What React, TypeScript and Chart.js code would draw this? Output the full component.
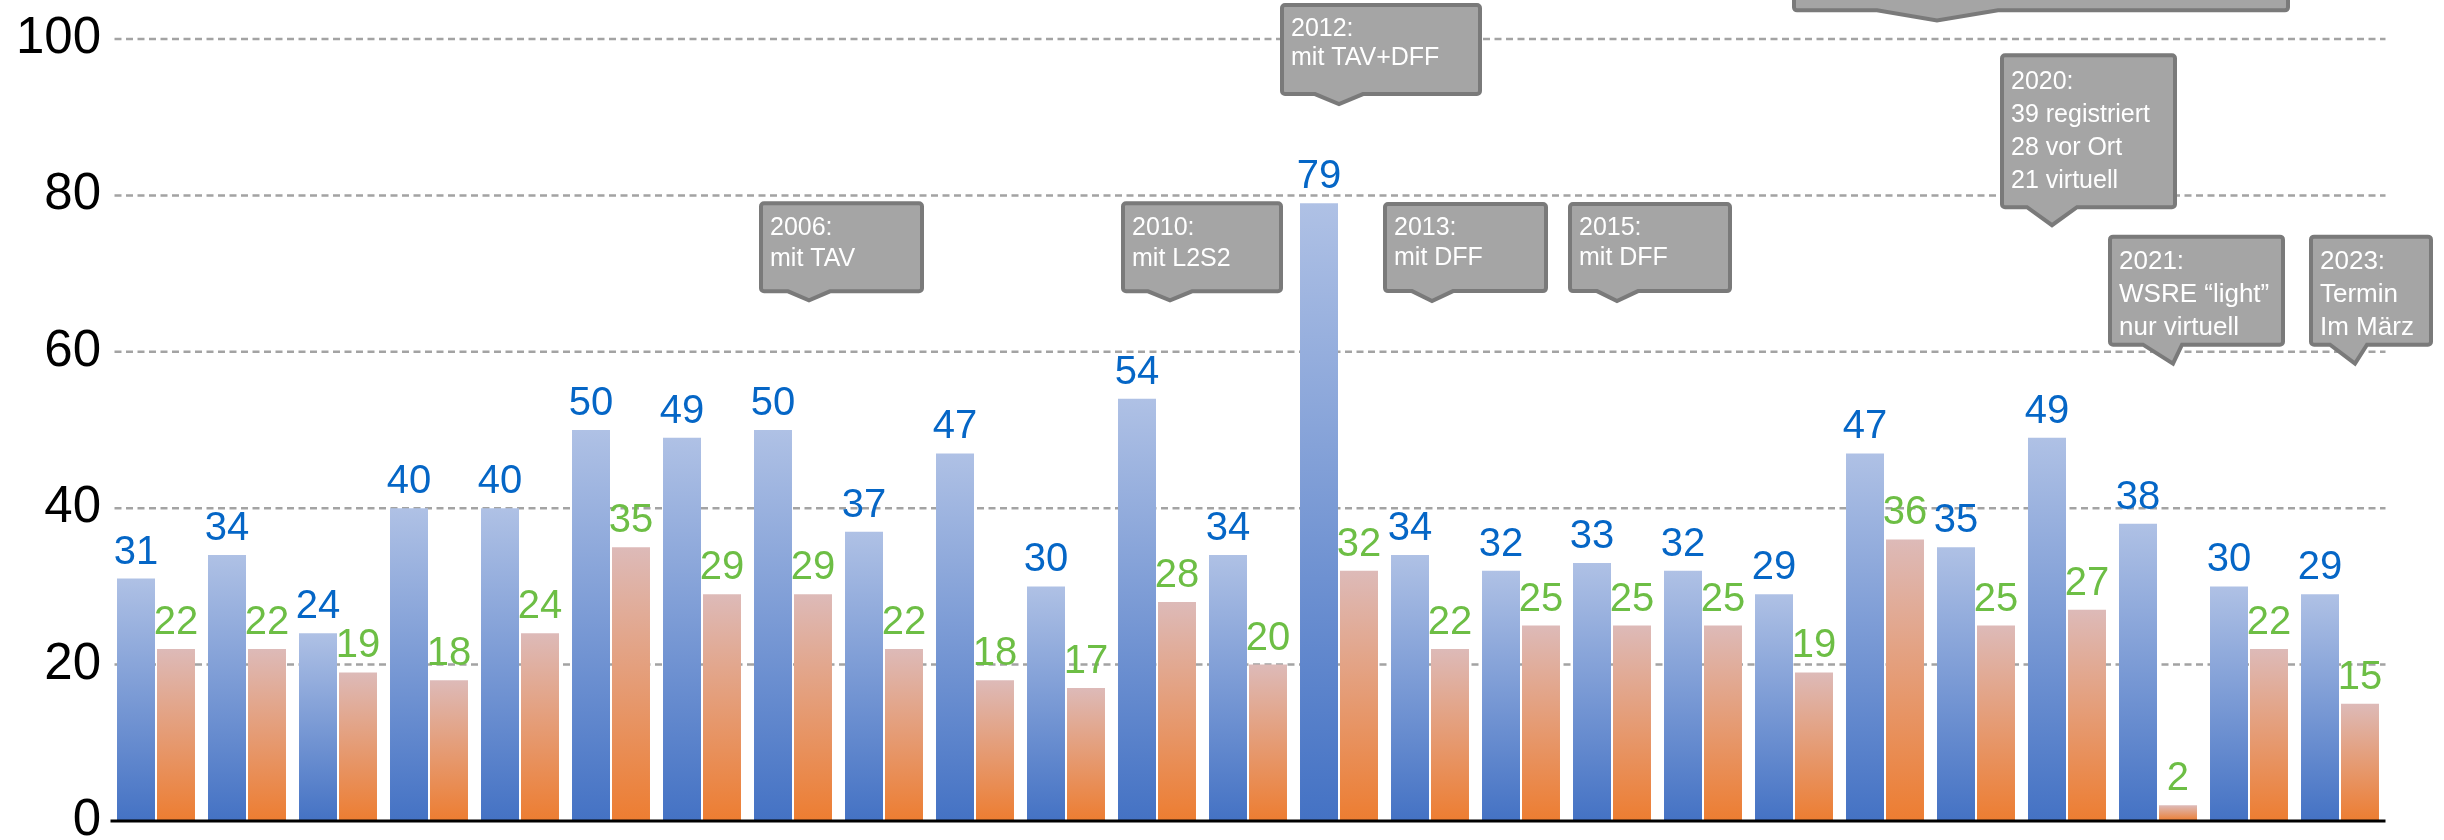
import React, { useEffect, useRef } from 'react';
import { Chart, registerables } from 'chart.js';

Chart.register(...registerables);

// ---- data ----
const years = [
  '1999', '2000', '2001', '2002', '2003', '2004', '2005', '2006', '2007', '2008',
  '2009', '2010', '2011', '2012', '2013', '2014', '2015', '2016', '2017', '2018',
  '2019', '2020', '2021', '2022', '2023',
];
const teilnehmer = [31, 34, 24, 40, 40, 50, 49, 50, 37, 47, 30, 54, 34, 79, 34, 32, 33, 32, 29, 47, 35, 49, 38, 30, 29];
const beitraege = [22, 22, 19, 18, 24, 35, 29, 29, 22, 18, 17, 28, 20, 32, 22, 25, 25, 25, 19, 36, 25, 27, 2, 22, 15];
const yMin = 0;
const yMax = 100;
const yStep = 20;

// ---- callout annotations (anchored on a year and a value) ----
const callouts = [
  { year: '2006', lines: ['2006:', 'mit TAV'], tipValue: 66.2, dx: 16, box: [-50, 115], h: 92, ph: 10, base: [-21, 21], first: 34, lh: 31, size: 25 },
  { year: '2010', lines: ['2010:', 'mit L2S2'], tipValue: 66.2, dx: 13, box: [-49, 113], h: 92, ph: 10, base: [-22, 22], first: 34, lh: 31, size: 25 },
  { year: '2012', lines: ['2012:', 'mit TAV+DFF'], tipValue: 91.3, dx: 0, box: [-59, 143], h: 93, ph: 11, base: [-24, 24], first: 33, lh: 29, size: 25 },
  { year: '2013', lines: ['2013:', 'mit DFF'], tipValue: 66.1, dx: 2, box: [-49, 116], h: 91, ph: 11, base: [-20, 21], first: 33, lh: 30, size: 25 },
  { year: '2015', lines: ['2015:', 'mit DFF'], tipValue: 66.1, dx: 5, box: [-49, 115], h: 91, ph: 11, base: [-20, 21], first: 33, lh: 30, size: 25 },
  { year: '2019', lines: [], tipValue: 102.0, dx: -39, box: [-145, 353], h: 160, ph: 11, base: [-60, 61], first: 34, lh: 31, size: 25 },
  { year: '2020', lines: ['2020:', '39 registriert', '28 vor Ort', '21 virtuell'], tipValue: 75.8, dx: -15, box: [-52, 125], h: 156, ph: 19, base: [-25, 25], first: 36, lh: 33, size: 25 },
  { year: '2021', lines: ['2021:', 'WSRE \u201Clight\u201D', 'nur virtuell'], tipValue: 58.1, dx: 15, box: [-65, 112], h: 112, ph: 20, base: [-30, 9], first: 34, lh: 33, size: 26 },
  { year: '2023', lines: ['2023:', 'Termin', 'Im M\u00E4rz'], tipValue: 58.1, dx: 15, box: [-46, 78], h: 112, ph: 20, base: [-25, 12], first: 34, lh: 33, size: 26 },
];

const FONT = '"Liberation Sans", Arial, Helvetica, sans-serif';
const BLUE_TOP = '#AFC1E5';
const BLUE_BOTTOM = '#4472C4';
const ORANGE_TOP = '#DDBAB8';
const ORANGE_BOTTOM = '#ED7D31';
const BLUE_LABEL = '#0566C6';
const GREEN_LABEL = '#6DBE45';

function barGradient(c: any, top: string, bottom: string) {
  const chart = c.chart;
  const ys = chart.scales && chart.scales.y;
  if (!ys || c.type !== 'data' || c.raw == null) return bottom;
  const y0 = ys.getPixelForValue(c.raw);
  const y1 = ys.getPixelForValue(0);
  if (!isFinite(y0) || !isFinite(y1) || y0 === y1) return bottom;
  const g = chart.ctx.createLinearGradient(0, y0, 0, y1);
  g.addColorStop(0, top);
  g.addColorStop(1, bottom);
  return g;
}

const gridPlugin = {
  id: 'dashGrid',
  beforeDatasetsDraw(chart: any) {
    const ctx = chart.ctx;
    const ys = chart.scales.y;
    const { left, right } = chart.chartArea;
    ctx.save();
    ctx.strokeStyle = '#A3A3A3';
    ctx.lineWidth = 2.5;
    ctx.setLineDash([7, 4.5]);
    ys.ticks.forEach((t: any) => {
      if (t.value === 0) return;
      const py = ys.getPixelForValue(t.value);
      ctx.beginPath();
      ctx.moveTo(left + 4, py);
      ctx.lineTo(right, py);
      ctx.stroke();
    });
    ctx.restore();
  },
};

const labelPlugin = {
  id: 'valueLabels',
  afterDatasetsDraw(chart: any) {
    const ctx = chart.ctx;
    const ys = chart.scales.y;
    const { left, right } = chart.chartArea;
    // zero axis line
    ctx.save();
    ctx.strokeStyle = '#000000';
    ctx.lineWidth = 3;
    const y0 = ys.getPixelForValue(0);
    ctx.beginPath();
    ctx.moveTo(left, y0);
    ctx.lineTo(right, y0);
    ctx.stroke();
    ctx.restore();

    ctx.save();
    ctx.font = `40px ${FONT}`;
    ctx.textAlign = 'center';
    ctx.textBaseline = 'alphabetic';
    chart.data.datasets.forEach((ds: any, di: number) => {
      const meta = chart.getDatasetMeta(di);
      ctx.fillStyle = ds.labelColor;
      meta.data.forEach((el: any, i: number) => {
        ctx.fillText(String(ds.data[i]), el.x, el.y - 15);
      });
    });
    ctx.restore();
  },
};

const calloutPlugin = {
  id: 'callouts',
  afterDraw(chart: any) {
    const ctx = chart.ctx;
    const xs = chart.scales.x;
    const ys = chart.scales.y;
    callouts.forEach((c) => {
      const idx = years.indexOf(c.year);
      const tx = xs.getPixelForValue(idx) + c.dx;
      const ty = ys.getPixelForValue(c.tipValue);
      const bOuter = ty - c.ph;
      const tOuter = bOuter - c.h;
      const L = tx + c.box[0] + 2;
      const R = tx + c.box[1] - 2;
      const T = tOuter + 2;
      const B = bOuter - 2;
      const r = 3;
      ctx.save();
      ctx.beginPath();
      ctx.moveTo(L + r, T);
      ctx.lineTo(R - r, T);
      ctx.arcTo(R, T, R, T + r, r);
      ctx.lineTo(R, B - r);
      ctx.arcTo(R, B, R - r, B, r);
      ctx.lineTo(tx + c.base[1], B);
      ctx.lineTo(tx, ty - 3);
      ctx.lineTo(tx + c.base[0], B);
      ctx.lineTo(L + r, B);
      ctx.arcTo(L, B, L, B - r, r);
      ctx.lineTo(L, T + r);
      ctx.arcTo(L, T, L + r, T, r);
      ctx.closePath();
      ctx.fillStyle = '#A5A5A5';
      ctx.fill();
      ctx.lineWidth = 4;
      ctx.strokeStyle = '#7A7A7A';
      ctx.lineJoin = 'miter';
      ctx.stroke();
      ctx.fillStyle = '#FFFFFF';
      ctx.font = `${c.size}px ${FONT}`;
      ctx.textAlign = 'left';
      ctx.textBaseline = 'alphabetic';
      c.lines.forEach((line, i) => {
        ctx.fillText(line, tx + c.box[0] + 11, tOuter + c.first + i * c.lh);
      });
      ctx.restore();
    });
  },
};

export default function App() {
  const ref = useRef<HTMLCanvasElement>(null);

  useEffect(() => {
    document.body.style.margin = '0';
    document.body.style.overflow = 'hidden';
    const canvas = ref.current;
    if (!canvas) return;
    const chart = new Chart(canvas, {
      type: 'bar',
      data: {
        labels: years,
        datasets: [
          {
            label: 'Teilnehmer',
            data: teilnehmer,
            backgroundColor: (c: any) => barGradient(c, BLUE_TOP, BLUE_BOTTOM),
            borderWidth: 0,
            categoryPercentage: 0.879,
            barPercentage: 0.95,
            labelColor: BLUE_LABEL,
          } as any,
          {
            label: 'Beitr\u00E4ge',
            data: beitraege,
            backgroundColor: (c: any) => barGradient(c, ORANGE_TOP, ORANGE_BOTTOM),
            borderWidth: 0,
            categoryPercentage: 0.879,
            barPercentage: 0.95,
            labelColor: GREEN_LABEL,
          } as any,
        ],
      },
      options: {
        responsive: false,
        animation: false,
        devicePixelRatio: 1,
        layout: { padding: { left: 15.5, right: 58.5, top: 39, bottom: 19 } },
        plugins: {
          legend: { display: false },
          tooltip: { enabled: false },
        },
        scales: {
          x: {
            display: false,
            grid: { display: false },
          },
          y: {
            min: yMin,
            max: yMax,
            grid: { display: false, drawTicks: false },
            border: { display: false },
            ticks: {
              stepSize: yStep,
              color: '#000000',
              padding: 9.5,
              font: { family: FONT, size: 51 },
            },
            afterFit: (s: any) => {
              s.width = 95;
              s.paddingTop = 0;
              s.paddingBottom = 0;
            },
          },
        },
      },
      plugins: [gridPlugin, labelPlugin, calloutPlugin],
    });
    return () => chart.destroy();
  }, []);

  return (
    <div style={{ width: 2444, height: 840, overflow: 'hidden', background: '#FFFFFF' }}>
      <canvas ref={ref} width={2444} height={840} style={{ display: 'block' }} />
    </div>
  );
}
